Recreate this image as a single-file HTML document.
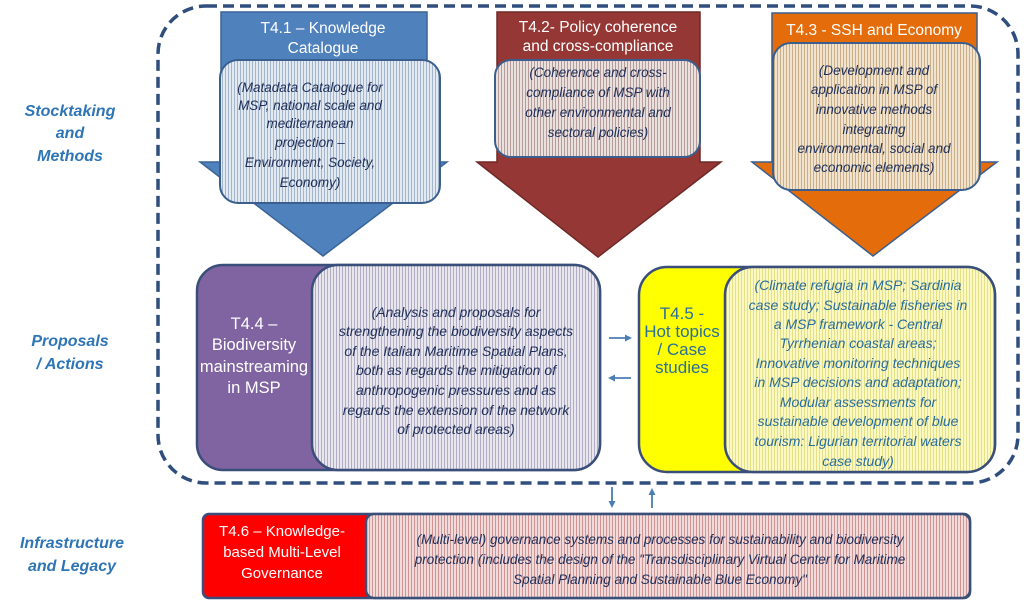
<!DOCTYPE html>
<html><head><meta charset="utf-8"><style>
html,body{margin:0;padding:0;background:#fff;}
svg{display:block;}
text{font-family:"Liberation Sans",sans-serif;}
.lab{font-weight:bold;font-style:italic;font-size:16px;fill:#2E75B6;}
.t{fill:#fff;font-size:15.5px;}
.b{font-style:italic;font-size:13.5px;fill:#1F2F5A;}
.y{font-style:italic;font-size:14px;fill:#2A6E9A;}
</style></head><body>
<svg width="1024" height="601" viewBox="0 0 1024 601" xmlns="http://www.w3.org/2000/svg">
<defs>
<pattern id="pb" width="3" height="3" patternUnits="userSpaceOnUse"><rect width="3" height="3" fill="#E3E9F0"/><rect width="1" height="3" fill="#A3B5CA"/></pattern>
<pattern id="pr" width="3" height="3" patternUnits="userSpaceOnUse"><rect width="3" height="3" fill="#EAE0DE"/><rect width="1" height="3" fill="#B39C99"/></pattern>
<pattern id="po" width="3" height="3" patternUnits="userSpaceOnUse"><rect width="3" height="3" fill="#F1E3CD"/><rect width="1" height="3" fill="#C9AF88"/></pattern>
<pattern id="pp" width="3" height="3" patternUnits="userSpaceOnUse"><rect width="3" height="3" fill="#E9E7EE"/><rect width="1" height="3" fill="#B1ABC3"/></pattern>
<pattern id="py" width="3" height="3" patternUnits="userSpaceOnUse"><rect width="3" height="3" fill="#FBF9C3"/><rect width="1" height="3" fill="#E5DF85"/></pattern>
<pattern id="pd" width="3" height="3" patternUnits="userSpaceOnUse"><rect width="3" height="3" fill="#F0DADA"/><rect width="1" height="3" fill="#D09494"/></pattern>
</defs>

<rect x="158" y="6" width="860" height="477" rx="48" fill="none" stroke="#2F4E7E" stroke-width="3.5" stroke-dasharray="11,6"/>

<text class="lab" text-anchor="middle"><tspan x="70" y="116">Stocktaking</tspan><tspan x="70" y="138">and</tspan><tspan x="70" y="161">Methods</tspan></text>
<text class="lab" text-anchor="middle"><tspan x="70" y="346">Proposals</tspan><tspan x="70" y="369">/ Actions</tspan></text>
<text class="lab" text-anchor="middle"><tspan x="72" y="548">Infrastructure</tspan><tspan x="72" y="571">and Legacy</tspan></text>

<!-- Arrow 1 -->
<polygon points="221,12 427,12 427,162 447,162 323,256 200,162 221,162" fill="#4F81BD" stroke="#3A6496" stroke-width="1.5"/>
<rect x="220" y="60" width="220" height="143" rx="18" fill="url(#pb)" stroke="#3A5F8E" stroke-width="2"/>
<text class="t" text-anchor="middle"><tspan x="323" y="33">T4.1 – Knowledge</tspan><tspan x="323" y="53">Catalogue</tspan></text>
<text class="b" text-anchor="middle"><tspan x="310" y="92">(Matadata Catalogue for</tspan><tspan x="310" y="110">MSP, national scale and</tspan><tspan x="310" y="128">mediterranean</tspan><tspan x="310" y="147">projection –</tspan><tspan x="310" y="167">Environment, Society,</tspan><tspan x="310" y="187">Economy)</tspan></text>

<!-- Arrow 2 -->
<polygon points="497,12 700,12 700,162 721,162 598,257 477,162 497,162" fill="#953735" stroke="#6E2A28" stroke-width="1.5"/>
<rect x="495" y="60" width="205" height="97" rx="16" fill="url(#pr)" stroke="#3A5F8E" stroke-width="2"/>
<text class="t" text-anchor="middle"><tspan x="598" y="32">T4.2- Policy coherence</tspan><tspan x="598" y="51">and cross-compliance</tspan></text>
<text class="b" text-anchor="middle"><tspan x="598" y="77">(Coherence and cross-</tspan><tspan x="598" y="97">compliance of MSP with</tspan><tspan x="598" y="117">other environmental and</tspan><tspan x="598" y="137">sectoral policies)</tspan></text>

<!-- Arrow 3 -->
<polygon points="772,13 977,13 977,162 997,162 873,256 752,162 772,162" fill="#E46C0A" stroke="#3A5F8E" stroke-width="1.5"/>
<rect x="773" y="43" width="207" height="147" rx="18" fill="url(#po)" stroke="#3A5F8E" stroke-width="2"/>
<text class="t" text-anchor="middle"><tspan x="874" y="35">T4.3 - SSH and Economy</tspan></text>
<text class="b" text-anchor="middle"><tspan x="874" y="75">(Development and</tspan><tspan x="874" y="94">application in MSP of</tspan><tspan x="874" y="114">innovative methods</tspan><tspan x="874" y="134">integrating</tspan><tspan x="874" y="153">environmental, social and</tspan><tspan x="874" y="172">economic elements)</tspan></text>

<!-- T4.4 -->
<rect x="197" y="265" width="403" height="205" rx="26" fill="#8064A2" stroke="#3A4E7A" stroke-width="2.5"/>
<rect x="312" y="265" width="288" height="205" rx="26" fill="url(#pp)" stroke="#3A4E7A" stroke-width="2.5"/>
<text class="t" text-anchor="middle" style="font-size:16.5px"><tspan x="254" y="329">T4.4 –</tspan><tspan x="254" y="350">Biodiversity</tspan><tspan x="254" y="372">mainstreaming</tspan><tspan x="254" y="393">in MSP</tspan></text>
<text class="b" text-anchor="middle" style="font-size:14px"><tspan x="456" y="317">(Analysis and proposals for</tspan><tspan x="456" y="336">strengthening the biodiversity aspects</tspan><tspan x="456" y="356">of the Italian Maritime Spatial Plans,</tspan><tspan x="456" y="375">both as regards the mitigation of</tspan><tspan x="456" y="395">anthropogenic pressures and as</tspan><tspan x="456" y="415">regards the extension of the network</tspan><tspan x="456" y="434">of protected areas)</tspan></text>

<!-- side arrows -->
<g stroke="#4A7EB5" stroke-width="1.8" fill="#4A7EB5">
<line x1="609" y1="338" x2="628" y2="338"/><polygon points="632,338 625,334.5 625,341.5" stroke="none"/>
<line x1="612" y1="378" x2="631" y2="378"/><polygon points="608,378 615,374.5 615,381.5" stroke="none"/>
<line x1="612" y1="487" x2="612" y2="504"/><polygon points="612,508 608.5,501 615.5,501" stroke="none"/>
<line x1="652" y1="492" x2="652" y2="508"/><polygon points="652,488 648.5,495 655.5,495" stroke="none"/>
</g>

<!-- T4.5 -->
<rect x="639" y="267" width="356" height="205" rx="28" fill="#FFFF00" stroke="#3A4E7A" stroke-width="2.5"/>
<rect x="725" y="267" width="270" height="205" rx="28" fill="url(#py)" stroke="#3A4E7A" stroke-width="2.5"/>
<text text-anchor="middle" style="font-size:17px;fill:#2A6E9A"><tspan x="682" y="319">T4.5 -</tspan><tspan x="682" y="337">Hot topics</tspan><tspan x="682" y="355">/ Case</tspan><tspan x="682" y="373">studies</tspan></text>
<text class="y" text-anchor="middle"><tspan x="858" y="290">(Climate refugia in MSP; Sardinia</tspan><tspan x="858" y="310">case study; Sustainable fisheries in</tspan><tspan x="858" y="329">a MSP framework - Central</tspan><tspan x="858" y="348">Tyrrhenian coastal areas;</tspan><tspan x="858" y="368">Innovative monitoring techniques</tspan><tspan x="858" y="387">in MSP decisions and adaptation;</tspan><tspan x="858" y="407">Modular assessments for</tspan><tspan x="858" y="426">sustainable development of blue</tspan><tspan x="858" y="446">tourism: Ligurian territorial waters</tspan><tspan x="858" y="466">case study)</tspan></text>

<!-- T4.6 -->
<rect x="203" y="514" width="767" height="84" rx="6" fill="#FF0000" stroke="#3A4E7A" stroke-width="2.5"/>
<rect x="366" y="514" width="604" height="84" rx="8" fill="url(#pd)" stroke="#3A4E7A" stroke-width="2.5"/>
<text class="t" text-anchor="middle" style="font-size:15px"><tspan x="282" y="536">T4.6 – Knowledge-</tspan><tspan x="282" y="557">based Multi-Level</tspan><tspan x="282" y="578">Governance</tspan></text>
<text class="b" text-anchor="middle"><tspan x="660" y="544">(Multi-level) governance systems and processes for sustainability and biodiversity</tspan><tspan x="660" y="564">protection (includes the design of the "Transdisciplinary Virtual Center for Maritime</tspan><tspan x="660" y="584">Spatial Planning and Sustainable Blue Economy"</tspan></text>
</svg>
</body></html>
